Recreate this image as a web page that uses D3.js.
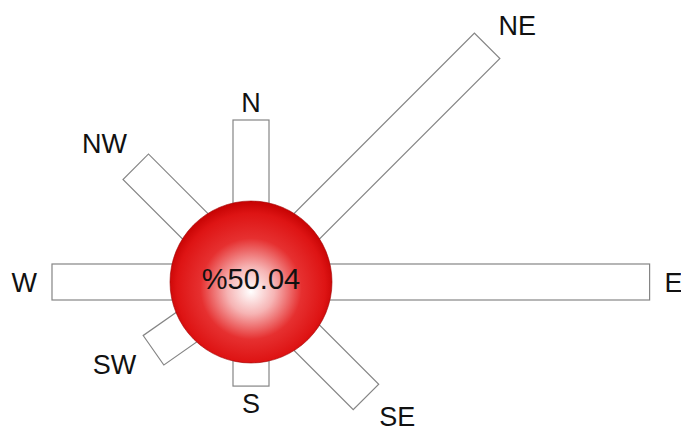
<!DOCTYPE html>
<html>
<head>
<meta charset="utf-8">
<script src="https://cdn.jsdelivr.net/npm/d3@7"></script>
<style>
  html, body { margin: 0; padding: 0; background: #fff; }
  svg { display: block; }
</style>
</head>
<body>
<svg id="chart" width="681" height="431"></svg>
<script>
// ---- data ----
const directions = ["N", "NE", "E", "SE", "S", "SW", "W", "NW"];
const frequencies = [4.07, 12.71, 15.96, 4.10, 1.16, 1.91, 5.93, 4.12]; // percent
const calmLabel = "%50.04";

// ---- layout ----
const cx = 251, cy = 282, R = 81;
const barW = 36;
const svg = d3.select("#chart");

const len = d3.scaleLinear().domain([0, 16]).range([0, 16 * 19.9]);
// compass angle of each direction (SW drawn slightly rotated as in the original)
const angleAdjust = { SW: 10 };
const labelAdjust = { SW: 4, NE: 1, SE: -2.5, NW: -1.5 };
const angleOf = (d, i) => i * 45 + (angleAdjust[d] || 0);

const data = directions.map((d, i) => ({ dir: d, value: frequencies[i], angle: angleOf(d, i) }));

const defs = svg.append("defs");
const grad = defs.append("radialGradient")
  .attr("id", "ballGrad")
  .attr("cx", "50%").attr("cy", "53%").attr("r", "52%")
  .attr("fx", "50%").attr("fy", "56%");
grad.append("stop").attr("offset", "0%").attr("stop-color", "#ffffff");
grad.append("stop").attr("offset", "28%").attr("stop-color", "#f6b4b4");
grad.append("stop").attr("offset", "60%").attr("stop-color", "#e63030");
grad.append("stop").attr("offset", "88%").attr("stop-color", "#de1414");
grad.append("stop").attr("offset", "100%").attr("stop-color", "#c80404");

const g = svg.append("g").attr("transform", `translate(${cx},${cy})`);

// bars
g.selectAll("rect.bar")
  .data(data)
  .join("rect")
  .attr("class", "bar")
  .attr("x", -barW / 2)
  .attr("y", d => -(R + len(d.value)))
  .attr("width", barW)
  .attr("height", d => len(d.value) + R - 20)
  .attr("transform", d => `rotate(${d.angle})`)
  .attr("fill", "#ffffff")
  .attr("stroke", "#858585")
  .attr("stroke-width", 1.2);

// central ball
g.append("circle")
  .attr("r", R)
  .attr("fill", "url(#ballGrad)")
  .attr("stroke", "#a00000")
  .attr("stroke-width", 0.6);

g.append("text")
  .attr("x", 0)
  .attr("y", 7)
  .attr("text-anchor", "middle")
  .attr("font-family", "'Liberation Sans', Arial, sans-serif")
  .attr("font-size", 29)
  .attr("fill", "#111")
  .text(calmLabel);

// direction labels
const fs = 27, capH = 0.716 * fs;
const labels = g.selectAll("text.lbl")
  .data(data)
  .join("text")
  .attr("class", "lbl")
  .attr("text-anchor", "middle")
  .attr("font-family", "'Liberation Sans', Arial, sans-serif")
  .attr("font-size", fs)
  .attr("fill", "#111")
  .text(d => d.dir);

labels.each(function(d) {
  const w = this.getComputedTextLength();
  const a = (d.angle + (labelAdjust[d.dir] || 0)) * Math.PI / 180;
  const ux = Math.sin(a), uy = -Math.cos(a);
  const diag = Math.abs(ux) * Math.abs(uy) * 2; // 1 on diagonals, 0 on axes
  const pad = 15 - 7 * Math.pow(Math.abs(uy), 4) + 2.5 * diag;
  const extent = Math.abs(ux) * w / 2 + Math.abs(uy) * capH / 2;
  const dist = R + len(d.value) + pad + extent;
  d3.select(this)
    .attr("x", ux * dist)
    .attr("y", uy * dist + capH / 2);
});
</script>
</body>
</html>
